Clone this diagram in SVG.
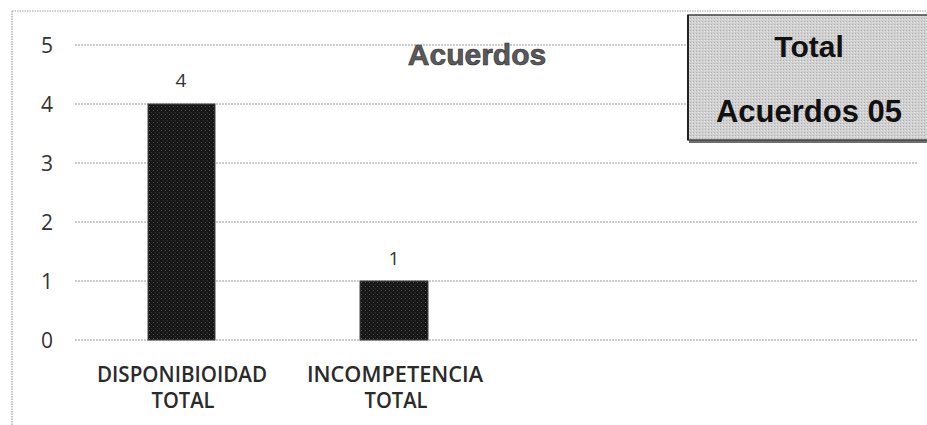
<svg xmlns="http://www.w3.org/2000/svg" width="927" height="425" viewBox="0 0 927 425">
  <defs>
    <pattern id="speckle" width="4" height="4" patternUnits="userSpaceOnUse">
      <rect width="4" height="4" fill="#161616"/>
      <rect x="1" y="2" width="1" height="1" fill="#5a5a5a"/>
      <rect x="3" y="0" width="1" height="1" fill="#3a3a3a"/>
    </pattern>
    <pattern id="boxtex" width="3" height="3" patternUnits="userSpaceOnUse">
      <rect width="3" height="3" fill="#d0d0d0"/>
      <rect x="0" y="0" width="1" height="1" fill="#b0b0b0"/>
      <rect x="2" y="1" width="1" height="1" fill="#e8e8e8"/>
    </pattern>
  </defs>
  <style>
    .grid { stroke: #9a9a9a; stroke-width: 1; stroke-dasharray: 2 1; fill: none; }
    .frame { stroke: #a0a0a0; stroke-width: 1.2; stroke-dasharray: 1.5 1; fill: none; }
    .ylab { font-family: "Open Sans", "Liberation Sans", sans-serif; font-size: 21px; fill: #333; text-anchor: middle; }
    .dlab { font-family: "Open Sans", "Liberation Sans", sans-serif; font-size: 19px; fill: #333; text-anchor: middle; }
    .cat { font-family: "Open Sans", "Liberation Sans", sans-serif; font-weight: 600; font-size: 21px; fill: #2a2a2a; text-anchor: middle; }
    .bar { fill: url(#speckle); stroke: #444; stroke-width: 1; }
    .boxt { font-family: "Liberation Sans", Arial, sans-serif; font-weight: 700; fill: #111; text-anchor: middle; }
  </style>
  <rect width="927" height="425" fill="#ffffff"/>

  <g id="frame">
    <line class="frame" x1="12" y1="11" x2="927" y2="11"/>
    <line class="frame" x1="12" y1="11" x2="12" y2="425"/>
  </g>

  <g id="gridlines">
    <line class="grid" x1="75" y1="45" x2="918" y2="45"/>
    <line class="grid" x1="75" y1="104" x2="918" y2="104"/>
    <line class="grid" x1="75" y1="163" x2="918" y2="163"/>
    <line class="grid" x1="75" y1="222" x2="918" y2="222"/>
    <line class="grid" x1="75" y1="281" x2="918" y2="281"/>
    <line class="grid" x1="75" y1="340" x2="918" y2="340"/>
  </g>

  <g id="y-axis-labels">
    <text class="ylab" x="47" y="53">5</text>
    <text class="ylab" x="47" y="112">4</text>
    <text class="ylab" x="47" y="171">3</text>
    <text class="ylab" x="47" y="230">2</text>
    <text class="ylab" x="47" y="289">1</text>
    <text class="ylab" x="47" y="348">0</text>
  </g>

  <g id="title">
    <text x="477" y="65" font-family="Liberation Sans, Arial, sans-serif" font-weight="700" font-size="30" fill="#5a5a5a" stroke="#2a2a2a" stroke-width="0.6" text-anchor="middle">Acuerdos</text>
  </g>

  <g id="bar-disponibilidad">
    <rect class="bar" x="148" y="104" width="67" height="236"/>
    <text class="dlab" x="181" y="87">4</text>
    <text class="cat" x="182" y="382" textLength="170" lengthAdjust="spacingAndGlyphs">DISPONIBIOIDAD</text>
    <text class="cat" x="183" y="408" textLength="63" lengthAdjust="spacingAndGlyphs">TOTAL</text>
  </g>

  <g id="bar-incompetencia">
    <rect class="bar" x="360" y="281" width="68" height="59"/>
    <text class="dlab" x="394" y="265">1</text>
    <text class="cat" x="395" y="382" textLength="176" lengthAdjust="spacingAndGlyphs">INCOMPETENCIA</text>
    <text class="cat" x="396" y="408" textLength="63" lengthAdjust="spacingAndGlyphs">TOTAL</text>
  </g>

  <g id="total-box">
    <rect x="689" y="139" width="240" height="4" fill="#6e6e6e"/>
    <rect x="688" y="15" width="242" height="125" fill="url(#boxtex)" stroke="#444" stroke-width="1.5"/>
    <line x1="688" y1="15" x2="688" y2="140" stroke="#222" stroke-width="2"/>
    <text class="boxt" x="809" y="57" font-size="30">Total</text>
    <text class="boxt" x="809" y="122" font-size="31">Acuerdos 05</text>
  </g>
</svg>
